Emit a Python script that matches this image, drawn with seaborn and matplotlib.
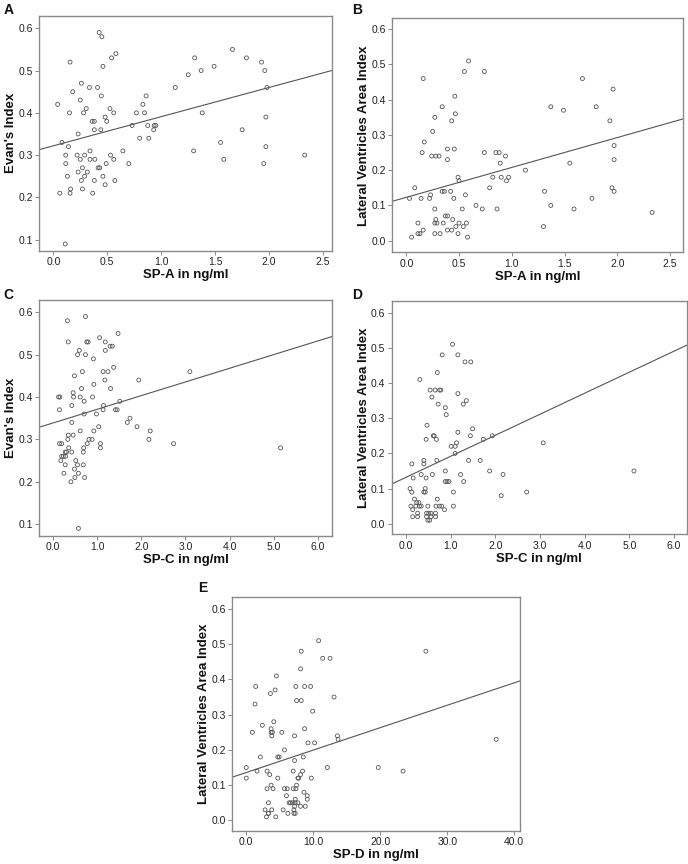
import matplotlib
matplotlib.use("Agg")
import matplotlib.pyplot as plt
import seaborn as sns
import pandas as pd
import numpy as np

# ---------------- data ----------------
spa_a = [0.04,0.08,0.06,0.11,0.115,0.115,0.13,0.14,0.15,0.155,0.155,0.16,0.18,0.22,0.23,0.23,0.25,0.25,0.26,0.26,
         0.27,0.27,0.28,0.29,0.29,0.305,0.315,0.335,0.34,0.34,0.36,0.365,0.38,0.38,0.38,0.385,0.41,0.415,0.43,0.425,
         0.45,0.44,0.445,0.46,0.46,0.48,0.48,0.49,0.495,0.525,0.53,0.54,0.56,0.56,0.57,0.58,0.645,0.70,0.73,0.77,
         0.80,0.83,0.845,0.86,0.875,0.885,0.93,0.935,0.95,1.13,1.25,1.30,1.31,1.37,1.38,1.49,1.55,1.58,1.66,1.75,
         1.79,1.93,1.95,1.96,1.97,1.97,1.98,2.33]
evans_a = [0.42,0.33,0.21,0.09,0.30,0.28,0.25,0.32,0.40,0.52,0.21,0.22,0.45,0.30,0.26,0.35,0.43,0.29,0.47,0.24,
           0.27,0.22,0.40,0.30,0.25,0.41,0.26,0.46,0.31,0.29,0.38,0.21,0.38,0.36,0.24,0.29,0.46,0.27,0.27,0.59,
           0.58,0.36,0.44,0.51,0.25,0.39,0.23,0.28,0.38,0.41,0.30,0.53,0.40,0.29,0.24,0.54,0.31,0.28,0.37,0.40,
           0.34,0.42,0.40,0.44,0.37,0.34,0.36,0.37,0.37,0.46,0.49,0.31,0.53,0.50,0.40,0.51,0.33,0.29,0.55,0.36,
           0.53,0.52,0.28,0.50,0.39,0.32,0.46,0.30]

spa_b = [0.03,0.05,0.08,0.11,0.11,0.13,0.14,0.15,0.16,0.16,0.17,0.22,0.23,0.24,0.25,0.27,0.27,0.27,0.27,0.28,
         0.28,0.29,0.31,0.32,0.34,0.34,0.35,0.36,0.37,0.39,0.39,0.39,0.39,0.42,0.43,0.43,0.44,0.45,0.455,0.46,
         0.465,0.47,0.49,0.49,0.50,0.50,0.53,0.54,0.55,0.56,0.57,0.58,0.59,0.66,0.72,0.74,0.74,0.79,0.82,0.85,
         0.86,0.88,0.89,0.90,0.94,0.95,0.97,1.13,1.30,1.31,1.37,1.37,1.49,1.55,1.59,1.67,1.76,1.80,1.93,1.95,
         1.96,1.97,1.97,1.97,2.33]
lvai_b = [0.12,0.01,0.15,0.05,0.02,0.02,0.12,0.25,0.03,0.46,0.28,0.12,0.13,0.24,0.31,0.35,0.05,0.02,0.09,0.06,
          0.24,0.05,0.24,0.02,0.38,0.14,0.05,0.14,0.07,0.26,0.23,0.07,0.03,0.14,0.03,0.34,0.06,0.12,0.26,0.41,
          0.36,0.04,0.02,0.18,0.05,0.17,0.09,0.04,0.48,0.13,0.05,0.01,0.51,0.10,0.09,0.48,0.25,0.15,0.18,0.25,
          0.09,0.25,0.22,0.18,0.24,0.17,0.18,0.20,0.04,0.14,0.38,0.10,0.37,0.22,0.09,0.46,0.12,0.38,0.34,0.15,
          0.43,0.27,0.14,0.23,0.08]

spc_c = [0.12,0.15,0.14,0.14,0.17,0.19,0.19,0.23,0.24,0.27,0.27,0.28,0.30,0.32,0.33,0.34,0.34,0.35,0.40,0.42,
         0.42,0.42,0.45,0.45,0.46,0.48,0.48,0.49,0.51,0.55,0.55,0.57,0.57,0.59,0.61,0.61,0.64,0.66,0.68,0.68,
         0.69,0.70,0.70,0.71,0.73,0.73,0.76,0.77,0.79,0.81,0.88,0.89,0.91,0.92,0.92,0.98,1.03,1.05,1.07,1.07,
         1.13,1.13,1.14,1.17,1.18,1.18,1.24,1.29,1.30,1.34,1.37,1.41,1.45,1.47,1.51,1.68,1.74,1.90,1.94,2.17,
         2.20,2.73,3.10,5.16]
evans_c = [0.40,0.40,0.37,0.29,0.25,0.26,0.29,0.26,0.22,0.27,0.24,0.26,0.27,0.58,0.30,0.53,0.31,0.28,0.20,0.38,
           0.34,0.27,0.31,0.41,0.40,0.23,0.45,0.21,0.25,0.50,0.24,0.09,0.22,0.51,0.32,0.40,0.42,0.46,0.24,0.27,
           0.28,0.39,0.36,0.21,0.59,0.50,0.53,0.29,0.53,0.30,0.30,0.40,0.49,0.32,0.43,0.36,0.33,0.54,0.29,0.28,
           0.37,0.46,0.38,0.44,0.53,0.51,0.46,0.52,0.42,0.52,0.47,0.37,0.37,0.55,0.39,0.34,0.35,0.33,0.44,0.30,
           0.32,0.29,0.46,0.28]

spc_d = [0.09,0.11,0.13,0.13,0.15,0.15,0.16,0.19,0.22,0.24,0.26,0.26,0.29,0.30,0.31,0.34,0.34,0.40,0.40,0.40,
         0.43,0.43,0.45,0.45,0.46,0.46,0.47,0.49,0.49,0.51,0.53,0.54,0.56,0.56,0.58,0.59,0.61,0.63,0.65,0.66,
         0.66,0.67,0.68,0.69,0.70,0.70,0.72,0.75,0.75,0.78,0.80,0.81,0.86,0.88,0.88,0.88,0.90,0.92,0.96,1.01,
         1.04,1.06,1.06,1.10,1.10,1.13,1.16,1.16,1.16,1.22,1.28,1.29,1.32,1.35,1.40,1.44,1.45,1.49,1.66,1.73,
         1.87,1.93,2.13,2.17,2.70,3.07,5.10]
lvai_d = [0.10,0.05,0.17,0.09,0.04,0.02,0.13,0.07,0.05,0.06,0.03,0.02,0.06,0.05,0.41,0.05,0.14,0.18,0.17,0.09,
          0.09,0.10,0.13,0.24,0.03,0.02,0.28,0.05,0.01,0.03,0.01,0.38,0.02,0.03,0.36,0.14,0.25,0.25,0.38,0.02,
          0.03,0.05,0.24,0.18,0.07,0.43,0.34,0.38,0.05,0.38,0.05,0.48,0.04,0.33,0.15,0.12,0.31,0.12,0.12,0.22,
          0.51,0.09,0.05,0.20,0.22,0.23,0.26,0.48,0.37,0.14,0.34,0.12,0.46,0.35,0.18,0.25,0.46,0.27,0.18,0.24,
          0.15,0.25,0.08,0.14,0.09,0.23,0.15]

spd_e = [0.0,0.0,0.9,1.3,1.4,1.6,2.1,2.4,2.8,3.0,3.1,3.1,3.3,3.3,3.3,3.5,3.6,3.7,3.7,3.7,
         3.8,3.8,3.9,4.0,4.1,4.3,4.4,4.5,4.7,4.7,4.9,5.3,5.5,5.7,5.7,6.0,6.1,6.2,6.4,6.6,
         6.9,7.0,7.0,7.1,7.1,7.2,7.2,7.2,7.3,7.3,7.3,7.4,7.4,7.5,7.5,7.7,7.7,7.8,8.1,8.1,
         8.1,8.2,8.2,8.4,8.5,8.6,8.7,8.7,8.8,9.1,9.1,9.2,9.6,9.7,9.9,10.2,10.8,11.4,12.1,12.5,
         13.1,13.6,13.7,19.7,23.4,26.8,37.3]
lvai_e = [0.15,0.12,0.25,0.33,0.38,0.14,0.18,0.27,0.03,0.01,0.14,0.09,0.02,0.05,0.02,0.13,0.36,0.26,0.10,0.25,
          0.03,0.24,0.25,0.09,0.28,0.37,0.01,0.41,0.12,0.18,0.18,0.25,0.03,0.20,0.09,0.07,0.09,0.02,0.05,0.05,
          0.05,0.09,0.14,0.02,0.03,0.04,0.17,0.24,0.02,0.06,0.05,0.38,0.09,0.34,0.10,0.05,0.12,0.12,0.43,0.13,
          0.04,0.48,0.34,0.14,0.18,0.08,0.38,0.26,0.04,0.06,0.07,0.22,0.38,0.12,0.31,0.22,0.51,0.46,0.15,0.46,
          0.35,0.24,0.23,0.15,0.14,0.48,0.23]

# fitted regression lines (intercept, slope) as shown in the figure
fit_intercepts = [0.322, 0.123, 0.339, 0.132, 0.136]
fit_slopes = [0.069, 0.0848, 0.0322, 0.0598, 0.00636]

panel_letters = ["A", "B", "C", "D", "E"]
x_labels = ["SP-A in ng/ml", "SP-A in ng/ml", "SP-C in ng/ml", "SP-C in ng/ml", "SP-D in ng/ml"]
y_labels = ["Evan's Index", "Lateral Ventricles Area Index", "Evan's Index",
            "Lateral Ventricles Area Index", "Lateral Ventricles Area Index"]

# ---------------- styling ----------------
sns.set_theme(style="white")
plt.rcParams['font.family'] = ['Liberation Sans', 'DejaVu Sans']

W, H = 688, 864
fig = plt.figure(figsize=(W / 100, H / 100), dpi=100)
fig.patch.set_facecolor("white")

def rect(l, t, r, b):
    return [l / W, 1 - b / H, (r - l) / W, (b - t) / H]

panels = [
    dict(x=spa_a, y=evans_a, box=(39.3, 16, 331.7, 250.7), xlim=(-0.13, 2.58), ylim=(0.074, 0.629),
         xt=[0, 0.5, 1.0, 1.5, 2.0, 2.5], yt=[0.1, 0.2, 0.3, 0.4, 0.5, 0.6], letter_xy=(4, 3)),
    dict(x=spa_b, y=lvai_b, box=(392.3, 18.3, 683.3, 252.3), xlim=(-0.133, 2.626), ylim=(-0.033, 0.631),
         xt=[0, 0.5, 1.0, 1.5, 2.0, 2.5], yt=[0.0, 0.1, 0.2, 0.3, 0.4, 0.5, 0.6], letter_xy=(352, 3)),
    dict(x=spc_c, y=evans_c, box=(39.3, 300, 331.7, 536), xlim=(-0.318, 6.32), ylim=(0.072, 0.629),
         xt=[0, 1, 2, 3, 4, 5, 6], yt=[0.1, 0.2, 0.3, 0.4, 0.5, 0.6], letter_xy=(3, 288)),
    dict(x=spc_d, y=lvai_d, box=(391.7, 300.7, 686.7, 534.3), xlim=(-0.32, 6.28), ylim=(-0.030, 0.634),
         xt=[0, 1, 2, 3, 4, 5, 6], yt=[0.0, 0.1, 0.2, 0.3, 0.4, 0.5, 0.6], letter_xy=(352, 288)),
    dict(x=spd_e, y=lvai_e, box=(232.3, 597.3, 520, 831), xlim=(-2.09, 40.85), ylim=(-0.030, 0.633),
         xt=[0, 10, 20, 30, 40], yt=[0.0, 0.1, 0.2, 0.3, 0.4, 0.5, 0.6], letter_xy=(198, 581)),
]

frame_col = "#8a8a8a"
for i, p in enumerate(panels):
    ax = fig.add_axes(rect(*p["box"]))
    df = pd.DataFrame({"x": p["x"], "y": p["y"]})
    sns.scatterplot(data=df, x="x", y="y", ax=ax, marker="o", s=8,
                    facecolor="none", edgecolor="#555555", linewidth=0.6)
    ax.set_xlim(*p["xlim"])
    ax.set_ylim(*p["ylim"])
    ax.axline((0, fit_intercepts[i]), slope=fit_slopes[i], color="#555555", lw=0.8, zorder=1)
    ax.set_xticks(p["xt"])
    ax.set_xticklabels([f"{v:.1f}" for v in p["xt"]])
    ax.set_yticks(p["yt"])
    ax.set_yticklabels([f"{v:.1f}" for v in p["yt"]])
    ax.tick_params(axis="both", which="both", bottom=True, left=True, length=3, width=0.7,
                   color=frame_col, labelsize=7.5, labelcolor="#222222", pad=1.5)
    for s in ax.spines.values():
        s.set_color(frame_col)
        s.set_linewidth(1.0)
    ax.set_xlabel(x_labels[i], fontsize=9.5, fontweight="bold", color="#111111", labelpad=1.5)
    ax.set_ylabel(y_labels[i], fontsize=9.5, fontweight="bold", color="#111111", labelpad=1)
    lx, ly = p["letter_xy"]
    fig.text(lx / W, 1 - ly / H, panel_letters[i], fontsize=10, fontweight="bold",
             color="#111111", va="top", ha="left")
    ax.grid(False)

fig.savefig("out.png", dpi=100, facecolor="white")
